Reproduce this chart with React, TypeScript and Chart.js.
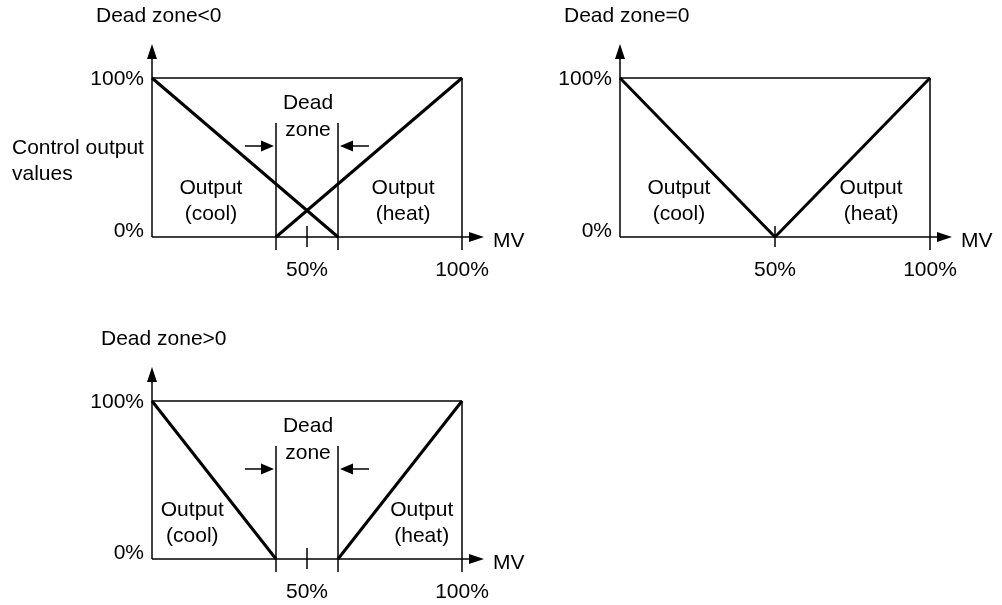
import React, { useEffect, useRef } from "react";
import { Chart, registerables } from "chart.js";

Chart.register(...registerables);

// ---- data ----
const panelTitles = ["Dead zone<0", "Dead zone=0", "Dead zone>0"];
const outputRange = [100, 0]; // control output (%) at the start / end of each line
const coolMV = [
  [0, 60],
  [0, 50],
  [0, 40],
];
const heatMV = [
  [40, 100],
  [50, 100],
  [60, 100],
];
const deadZoneEdges = [[40, 60], [], [40, 60]];
const xTickValues = [50, 100];
const xTickLabels = ["50%", "100%"];
const yTickValues = [100, 0];
const yTickLabels = ["100%", "0%"];
const coolLabel = ["Output", "(cool)"];
const heatLabel = ["Output", "(heat)"];
const deadLabel = ["Dead", "zone"];
const yAxisTitle = ["Control output", "values"];
const xAxisTitle = "MV";

// ---- layout (pixels) ----
const W = 1002;
const H = 605;
const panels = [
  { left: 152, right: 462, top: 78, bottom: 237, coolX: 19, heatX: 81, titleDx: -56, showYTitle: true },
  { left: 620, right: 930, top: 78, bottom: 237, coolX: 19, heatX: 81, titleDx: -56, showYTitle: false },
  { left: 152, right: 462, top: 401, bottom: 559, coolX: 13, heatX: 87, titleDx: -51, showYTitle: false },
];
const FONT = "21px 'Liberation Sans', Arial, Helvetica, sans-serif";

function makePlugin(idx: number) {
  const p = panels[idx];
  return {
    id: "diagram" + idx,
    afterDatasetsDraw(chart: any) {
      const ctx = chart.ctx as CanvasRenderingContext2D;
      const xs = chart.scales.x;
      const ys = chart.scales.y;
      const X = (v: number) => xs.getPixelForValue(v);
      const Y = (v: number) => ys.getPixelForValue(v);
      const x0 = X(0), x100 = X(100), y0 = Y(0), y100 = Y(100);
      ctx.save();
      ctx.strokeStyle = "#000";
      ctx.fillStyle = "#000";
      ctx.lineWidth = 1.5;
      const line = (a: number, b: number, c: number, d: number) => {
        ctx.beginPath();
        ctx.moveTo(a, b);
        ctx.lineTo(c, d);
        ctx.stroke();
      };
      // y axis with arrow
      line(x0, y0, x0, y100 - 20);
      ctx.beginPath();
      ctx.moveTo(x0, y100 - 34);
      ctx.lineTo(x0 - 5, y100 - 19);
      ctx.lineTo(x0 + 5, y100 - 19);
      ctx.closePath();
      ctx.fill();
      // x axis with arrow
      line(x0, y0, x100 + 8, y0);
      ctx.beginPath();
      ctx.moveTo(x100 + 22, y0);
      ctx.lineTo(x100 + 7, y0 - 5);
      ctx.lineTo(x100 + 7, y0 + 5);
      ctx.closePath();
      ctx.fill();
      // top frame line & right vertical
      line(x0, y100, x100, y100);
      line(x100, y100, x100, y0 + 13);
      // 50% tick
      line(X(xTickValues[0]), y0 - 11, X(xTickValues[0]), y0 + 10);
      // dead zone edges & arrows
      const dz = deadZoneEdges[idx];
      if (dz.length === 2) {
        const a = X(dz[0]), b = X(dz[1]);
        line(a, y100 + 45, a, y0 + 13);
        line(b, y100 + 45, b, y0 + 13);
        const ay = y100 + 68;
        line(a - 31, ay, a - 12, ay);
        ctx.beginPath();
        ctx.moveTo(a - 2, ay);
        ctx.lineTo(a - 15, ay - 5.5);
        ctx.lineTo(a - 15, ay + 5.5);
        ctx.closePath();
        ctx.fill();
        line(b + 31, ay, b + 12, ay);
        ctx.beginPath();
        ctx.moveTo(b + 2, ay);
        ctx.lineTo(b + 15, ay - 5.5);
        ctx.lineTo(b + 15, ay + 5.5);
        ctx.closePath();
        ctx.fill();
        ctx.font = FONT;
        ctx.textAlign = "center";
        ctx.textBaseline = "middle";
        ctx.fillText(deadLabel[0], X(50) + 1, y100 + 25);
        ctx.fillText(deadLabel[1], X(50) + 1, y100 + 52);
      }
      // text
      ctx.font = FONT;
      ctx.textBaseline = "middle";
      ctx.textAlign = "right";
      ctx.fillText(yTickLabels[0], x0 - 8, Y(yTickValues[0]) + 1);
      ctx.fillText(yTickLabels[1], x0 - 8, Y(yTickValues[1]) - 6);
      ctx.textAlign = "center";
      xTickValues.forEach((v, i) => ctx.fillText(xTickLabels[i], X(v), y0 + 33));
      ctx.textAlign = "left";
      ctx.fillText(xAxisTitle, x100 + 31, y0 + 4);
      ctx.fillText(panelTitles[idx], x0 + p.titleDx, y100 - 62);
      if (p.showYTitle) {
        ctx.fillText(yAxisTitle[0], 12, y100 + 70);
        ctx.fillText(yAxisTitle[1], 12, y100 + 96);
      }
      ctx.textAlign = "center";
      ctx.fillText(coolLabel[0], X(p.coolX), y0 - 49);
      ctx.fillText(coolLabel[1], X(p.coolX), y0 - 23);
      ctx.fillText(heatLabel[0], X(p.heatX), y0 - 49);
      ctx.fillText(heatLabel[1], X(p.heatX), y0 - 23);
      ctx.restore();
    },
  };
}

function Panel({ idx }: { idx: number }) {
  const ref = useRef<HTMLCanvasElement>(null);
  useEffect(() => {
    const p = panels[idx];
    const chart = new Chart(ref.current!, {
      type: "scatter",
      data: {
        datasets: [
          {
            data: coolMV[idx].map((x, i) => ({ x, y: outputRange[i] })),
            showLine: true,
            borderColor: "#000",
            borderWidth: 3,
            pointRadius: 0,
            clip: false,
          },
          {
            data: heatMV[idx].map((x, i) => ({ x, y: outputRange[1 - i] })),
            showLine: true,
            borderColor: "#000",
            borderWidth: 3,
            pointRadius: 0,
            clip: false,
          },
        ],
      } as any,
      options: {
        responsive: false,
        animation: false,
        devicePixelRatio: 1,
        layout: { padding: { left: p.left, right: W - p.right, top: p.top, bottom: H - p.bottom } },
        scales: {
          x: { type: "linear", min: 0, max: 100, display: false },
          y: { type: "linear", min: 0, max: 100, display: false },
        },
        plugins: { legend: { display: false }, tooltip: { enabled: false } },
        events: [],
      } as any,
      plugins: [makePlugin(idx)],
    });
    return () => chart.destroy();
  }, [idx]);
  return (
    <canvas
      ref={ref}
      width={W}
      height={H}
      style={{ position: "absolute", left: 0, top: 0, width: W, height: H }}
    />
  );
}

export default function App() {
  return (
    <div style={{ position: "absolute", left: 0, top: 0, width: W, height: H, background: "#fff" }}>
      {[0, 1, 2].map((i) => (
        <Panel key={i} idx={i} />
      ))}
    </div>
  );
}
